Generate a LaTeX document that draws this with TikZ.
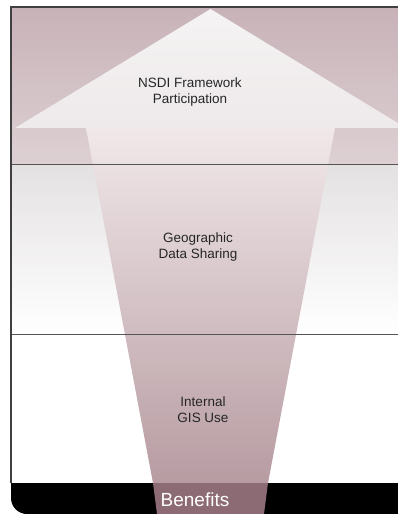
\documentclass[tikz,border=0pt]{standalone}
\usepackage{fontspec}
\setmainfont{Liberation Sans}
\usetikzlibrary{positioning}
\definecolor{bandtop}{HTML}{C7B2B8}
\definecolor{bandlow}{HTML}{DDD0D3}
\definecolor{bandmid}{HTML}{E4E1E2}
\definecolor{headtop}{HTML}{F5F3F3}
\definecolor{headlow}{HTML}{EEE9EA}
\definecolor{shafttop}{HTML}{F1E8E9}
\definecolor{shaftlow}{HTML}{B79CA2}
\definecolor{basemauve}{HTML}{8D6B74}
\definecolor{rulegray}{HTML}{555555}
\begin{document}
\begin{tikzpicture}[x=1pt,y=-1pt,
    stage/.style={align=center,font=\fontsize{13.5}{16}\selectfont,text=black!85},
    rule/.style={draw=rulegray,line width=0.9pt}]
\useasboundingbox (0,0) rectangle (398,514);
\clip (0,0) rectangle (398,514);
% bands
\shade[top color=bandtop,bottom color=bandlow] (11,7) rectangle (398,164);
\shade[top color=bandmid,bottom color=white] (11,164) rectangle (398,334);
\fill[white] (11,334) rectangle (398,483);
\fill[black] (398,483) -- (11,483) [rounded corners=16pt] -- (11,514) [sharp corners] -- (398,514) -- cycle;
% arrow
\coordinate (tip) at (210.5,9);
\coordinate (headl) at (15,128);
\coordinate (headr) at (406,128);
\coordinate (shaftl) at (86,128);
\coordinate (shaftr) at (335,128);
\coordinate (footl) at (157,514);
\coordinate (footr) at (264,514);
\shade[top color=headtop,bottom color=headlow] (tip) -- (headl) -- (headr) -- cycle;
\shade[top color=shafttop,bottom color=shaftlow,shading angle=0] (shaftl) -- (shaftr) -- (268,483) -- (153,483) -- cycle;
\fill[basemauve] (153,483) -- (268,483) -- (footr) -- (footl) -- cycle;
% rules and frame
\draw[rule] (11,164) -- (398,164);
\draw[rule] (11,334) -- (398,334);
\draw[draw=black!75,line width=1.4pt] (11,483) -- (11,7) -- (398,7);
% labels
\node[stage] (nsdi) at (190,92) {NSDI Framework\\Participation};
\node[stage] (share) at (198,247) {Geographic\\Data Sharing};
\node[stage] (gis) at (203,410) {Internal\\GIS Use};
\node[font=\fontsize{19}{22}\selectfont,text=white] (benefits) at (195,500) {Benefits};
\end{tikzpicture}
\end{document}
